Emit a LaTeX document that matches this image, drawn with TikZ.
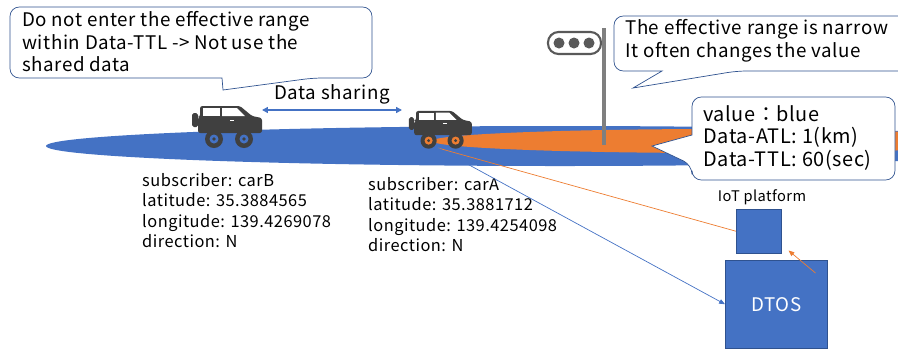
\documentclass[tikz,border=0pt]{standalone}
\usepackage{fontspec}
\setmainfont{Noto Sans CJK JP}[LetterSpace=3]
\usepackage{tikz}
\usetikzlibrary{arrows.meta, positioning, calc}

\definecolor{accblue}{HTML}{4472C4}
\definecolor{accorange}{HTML}{ED7D31}
\definecolor{cardark}{HTML}{404040}
\definecolor{lineblue}{HTML}{2F528F}
\definecolor{polegray}{HTML}{7F7F7F}
\definecolor{lampdark}{HTML}{595959}

% small jeep icon, origin at its top left corner
\tikzset{
  car hub/.store in=\carhub, car hub=accblue,
  pics/jeep/.style={code={
    \fill[cardark, rounded corners=1.5pt] (2,8) rectangle (8,22);
    \fill[cardark, rounded corners=2pt] (8,28) -- (8,12) -- (10,12) -- (10,1)
         -- (50,1) -- (62,11) -- (72,13) -- (72,28) -- cycle;
    \fill[white] (13,3) rectangle (30,11);
    \fill[white] (32,3) -- (47,3) -- (55,11) -- (32,11) -- cycle;
    \draw[white, line width=0.6pt] (40,15) -- (44,15);
    \foreach \wx in {24,54} {
      \fill[cardark] (\wx,34) circle (9);
      \fill[\carhub] (\wx,34) circle (4.5);
      \fill[cardark] (\wx,34) circle (1.8);
    }
  }}
}

\begin{document}
\begin{tikzpicture}[
  x=0.03cm, y=-0.03cm,
  callout line/.style = {draw=lineblue, line width=0.6pt, fill=white, rounded corners=8pt},
  callout text/.style = {align=left, inner sep=0pt, font=\fontsize{16}{19.2}\selectfont},
  info/.style         = {align=left, inner sep=0pt, font=\fontsize{14}{17.4}\selectfont},
  server/.style       = {draw=lineblue, line width=0.4pt, fill=accblue},
  link/.style         = {line width=0.6pt},
]
\useasboundingbox (0,0) rectangle (898,350);

% ── Effective ranges ──────────────────────────────────────────────────────────
\fill[accblue]   (560,146) ellipse [x radius=514, y radius=20];
\fill[accorange] (720,141) ellipse [x radius=288, y radius=12];

% ── Traffic light ─────────────────────────────────────────────────────────────
\draw[lampdark, line width=1.8pt, fill=white, rounded corners=9pt] (548,32) rectangle (601,54);
\foreach \lx in {559,574,589}
  \fill[lampdark] (\lx,43) circle (5.5);
\draw[polegray, line width=3pt] (604,28) -- (604,145);

% ── Cars ──────────────────────────────────────────────────────────────────────
\pic at (190,105) {jeep};
\pic[car hub=accorange, scale=0.9] at (407,110) {jeep};
\coordinate (carA)   at (438,148);
\coordinate (shareB) at (262,110);
\coordinate (shareA) at (402,110);

\draw[accblue, line width=1.3pt, {Triangle[length=5pt,width=5pt]}-{Triangle[length=5pt,width=5pt]}]
  (shareB) -- node[above=1pt, font=\fontsize{16}{19}\selectfont, black]{Data sharing} (shareA);

% ── Car records ───────────────────────────────────────────────────────────────
\node[info, anchor=north west] (recB) at (142,173) {subscriber: carB\\latitude: 35.3884565\\longitude: 139.4269078\\direction: N};
\node[info, anchor=north west] (recA) at (368,177) {subscriber: carA\\latitude: 35.3881712\\longitude: 139.4254098\\direction: N};

% ── Servers ───────────────────────────────────────────────────────────────────
\node[server, minimum width=1.35cm, minimum height=1.32cm, anchor=north west] (iot) at (736,209) {};
\node[font=\fontsize{12.5}{15}\selectfont] (iotlbl) at (762,197) {IoT platform};
\node[server, minimum width=3.06cm, minimum height=2.64cm, anchor=north west,
      text=white, font=\fontsize{16}{19}\selectfont] (dtos) at (725,260) {DTOS};

\draw[link, accorange] (carA) -- (iot.west);
\draw[link, accblue, -{Triangle[length=5pt,width=4pt]}] (carA) -- (dtos.west);
\draw[link, accorange, -{Triangle[length=5pt,width=4pt]}]
  ($(dtos.north east)+(-12,13)$) -- ($(iot.south east)+(7,-3)$);

% ── Callouts ──────────────────────────────────────────────────────────────────
\draw[callout line] (10,40) |- (372,7) |- (313,78) [sharp corners] -- (223,90) -- (222,78)
  [rounded corners=8pt] -| (10,40) -- cycle;
\node[callout text, anchor=west] (warn) at (22,42)
  {Do not enter the effective range\\within Data-TTL -> Not use the\\shared data};

\draw[callout line] (614,40) |- (910,16) |- (737,71) [sharp corners] -- (633,88) -- (662,71)
  [rounded corners=8pt] -| (614,40) -- cycle;
\node[callout text, anchor=west] (narrow) at (625,41)
  {The effective range is narrow\\It often changes the value};

\draw[callout line] (692,120) |- (895,97) |- (692,180) -- (692,165) [sharp corners] -- (652,146)
  -- (692,135) [rounded corners=8pt] -- cycle;
\node[callout text, anchor=west, font=\fontsize{17}{19.5}\selectfont] (value) at (703,138)
  {value：blue\\Data-ATL: 1(km)\\Data-TTL: 60(sec)};

\end{tikzpicture}
\end{document}
